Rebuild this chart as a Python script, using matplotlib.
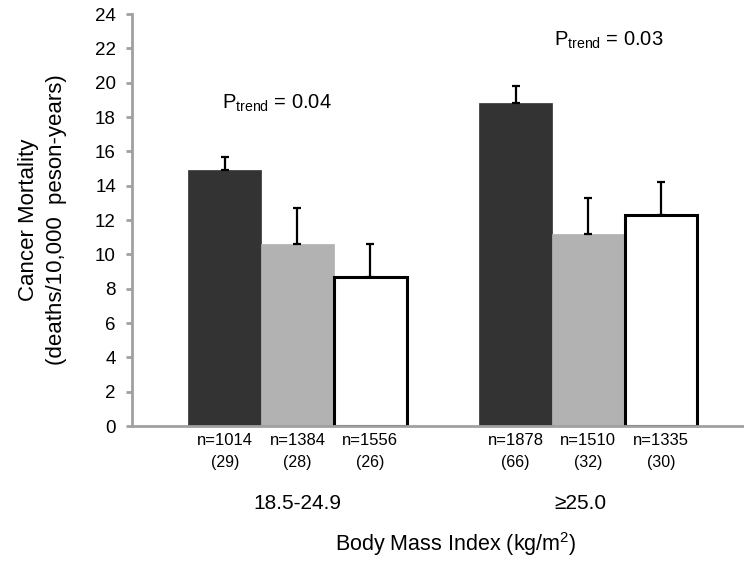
import matplotlib
matplotlib.use("Agg")
import matplotlib.pyplot as plt
import numpy as np

plt.rcParams['font.family'] = ['Liberation Sans', 'DejaVu Sans']
plt.rcParams['mathtext.fontset'] = 'custom'
plt.rcParams['mathtext.rm'] = 'Liberation Sans'
plt.rcParams['mathtext.it'] = 'Liberation Sans:italic'

# data
groups = ['18.5-24.9', '\u226525.0']
mortality = [[14.9, 10.6, 8.7],     # BMI 18.5-24.9
             [18.8, 11.2, 12.3]]    # BMI >=25.0
upper_err = [[0.8, 2.1, 1.9],
             [1.0, 2.1, 1.9]]
n_labels = [['n=1014', 'n=1384', 'n=1556'],
            ['n=1878', 'n=1510', 'n=1335']]
deaths = [['(29)', '(28)', '(26)'],
          ['(66)', '(32)', '(30)']]
p_trend = ['0.04', '0.03']

face = ['#333333', '#b2b2b2', 'white']
edge = ['#333333', '#b2b2b2', 'black']

fig = plt.figure(figsize=(7.44, 5.65), dpi=100)
ax = fig.add_axes([0.177, 0.246, 0.823, 0.729])

centers = np.array([0, 4])
offsets = [-1, 0, 1]
for g in range(2):
    for k in range(3):
        x = centers[g] + offsets[k]
        ax.bar(x, mortality[g][k], width=1.0, color=face[k], edgecolor=edge[k],
               linewidth=2.2 if k == 2 else 0.5, zorder=2)
        ax.errorbar(x, mortality[g][k], yerr=[[0], [upper_err[g][k]]], fmt='none',
                    ecolor='black', elinewidth=1.6, capsize=3, capthick=1.6, zorder=3)
        ax.text(x, -0.86, n_labels[g][k], ha='center', va='center', fontsize=12)
        ax.text(x, -2.1, deaths[g][k], ha='center', va='center', fontsize=11.5)
ax.text(centers[0], -4.5, groups[0], ha='center', va='center', fontsize=15)
ax.text(centers[1] - 0.11, -4.5, groups[1], ha='center', va='center', fontsize=15)

# P for trend labels
ax.text(-0.28, 18.8, r'P$_{\mathrm{trend}}$ = ' + p_trend[0], ha='center', va='center', fontsize=14.5)
ax.text(4.28, 22.5, r'P$_{\mathrm{trend}}$ = ' + p_trend[1], ha='center', va='center', fontsize=14.5)

ax.text(2.17, -6.9, 'Body Mass Index (kg/m$^2$)', ha='center', va='center', fontsize=15.5)

ax.set_xlim(-2.28, 6.14)
ax.set_ylim(0, 24)
ax.set_yticks(np.arange(0, 25, 2))
ax.set_xticks([])
ax.tick_params(axis='y', labelsize=13.5, length=4.3, width=2, color='#a0a0a0', pad=7)
for s in ['top', 'right']:
    ax.spines[s].set_visible(False)
for s in ['left', 'bottom']:
    ax.spines[s].set_color('#a0a0a0')
    ax.spines[s].set_linewidth(2)
ax.set_ylabel('Cancer Mortality\n(deaths/10,000  peson-years)', fontsize=16,
              linespacing=1.43, labelpad=20)

fig.savefig('out.png', dpi=100)
